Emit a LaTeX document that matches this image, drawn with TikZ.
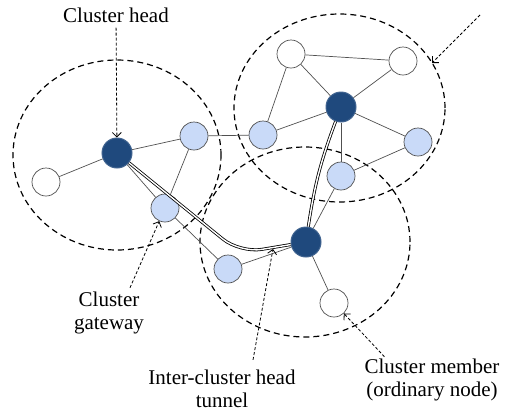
\documentclass[tikz,border=0pt]{standalone}
\usepackage{fontspec}
\setmainfont{Liberation Serif}
\usetikzlibrary{arrows.meta}
\definecolor{headblue}{RGB}{31,73,125}
\definecolor{gateblue}{RGB}{201,218,248}
\definecolor{rimgray}{RGB}{80,80,80}

\begin{document}
\begin{tikzpicture}[x=1pt, y=-1pt, >={Straight Barb[length=4.5pt,width=9pt]},
    head/.style={circle, fill=headblue, draw=headblue!85!white, line width=1pt, minimum size=30pt, inner sep=0pt},
    gate/.style={circle, fill=gateblue, draw=rimgray, line width=0.7pt, minimum size=28pt, inner sep=0pt},
    member/.style={circle, fill=white, draw=rimgray, line width=0.7pt, minimum size=28pt, inner sep=0pt},
    cluster/.style={dash pattern=on 6pt off 4pt, line width=1.2pt},
    link/.style={color=rimgray, line width=0.7pt},
    tunnel/.style={draw=black, line width=0.8pt, double=white, double distance=1.4pt},
    note/.style={->, dash pattern=on 3pt off 2pt, line width=0.8pt},
    lbl/.style={font=\fontsize{21}{23}\selectfont, align=center, inner sep=0pt}]
    \useasboundingbox (0,0) rectangle (509,413);

    \draw[cluster] (117,155) ellipse [x radius=104pt, y radius=95pt];
    \draw[cluster] (339.5,108) ellipse [x radius=105.5pt, y radius=94pt];
    \draw[cluster] (305,242) ellipse [x radius=105pt, y radius=95pt];

    \node[member] (m1) at (46,182) {};
    \node[head] (ch1) at (117,153) {};
    \node[gate] (g1) at (194,136) {};
    \node[gate] (g2) at (165,208) {};
    \node[gate] (g3) at (263,135) {};
    \node[member] (m2) at (291,54) {};
    \node[member] (m3) at (403,61) {};
    \node[head] (ch2) at (341,107) {};
    \node[gate] (g4) at (418,142) {};
    \node[gate] (g5) at (341,176) {};
    \node[head] (ch3) at (306,242) {};
    \node[gate] (g6) at (228,269) {};
    \node[member] (m4) at (334,303) {};

    \path[link]
    (m1) edge (ch1)
    (ch1) edge (g1)
    (ch1) edge (g2)
    (g1) edge (g2)
    (g1) edge (g3)
    (g3) edge (m2)
    (g3) edge (ch2)
    (m2) edge (m3)
    (m2) edge (ch2)
    (m3) edge (ch2)
    (ch2) edge (g4)
    (ch2) edge (g5)
    (g5) edge (g4)
    (g5) edge (ch3)
    (g2) edge (g6)
    (g6) edge (ch3)
    (ch3) edge (m4);

    \draw[tunnel, rounded corners=22pt] (ch1) -- (240,253) -- (ch3);
    \draw[tunnel] (ch3) to[bend left=6] (ch2);

    \node[lbl] (lhead) at (116,15) {Cluster head};
    \node[lbl] (lgate) at (109,313) {Cluster\\gateway};
    \node[lbl] (ltunnel) at (222,389) {Inter-cluster head\\tunnel};
    \node[lbl] (lmember) at (432,380) {Cluster member\\(ordinary node)};
    \coordinate (tunpt) at (273,249);
    \coordinate (farend) at (480,15);
    \coordinate (rim2) at (432,63);

    \draw[note, shorten <=5pt] (lhead) -- (ch1);
    \draw[note] ([xshift=21pt, yshift=4pt]lgate.north) -- (g2);
    \draw[note] ([xshift=31pt, yshift=10pt]ltunnel.north) -- (tunpt);
    \draw[note] ([xshift=20pt, yshift=2pt]lmember.north west) -- (m4);
    \draw[note] (farend) -- (rim2);
\end{tikzpicture}
\end{document}
